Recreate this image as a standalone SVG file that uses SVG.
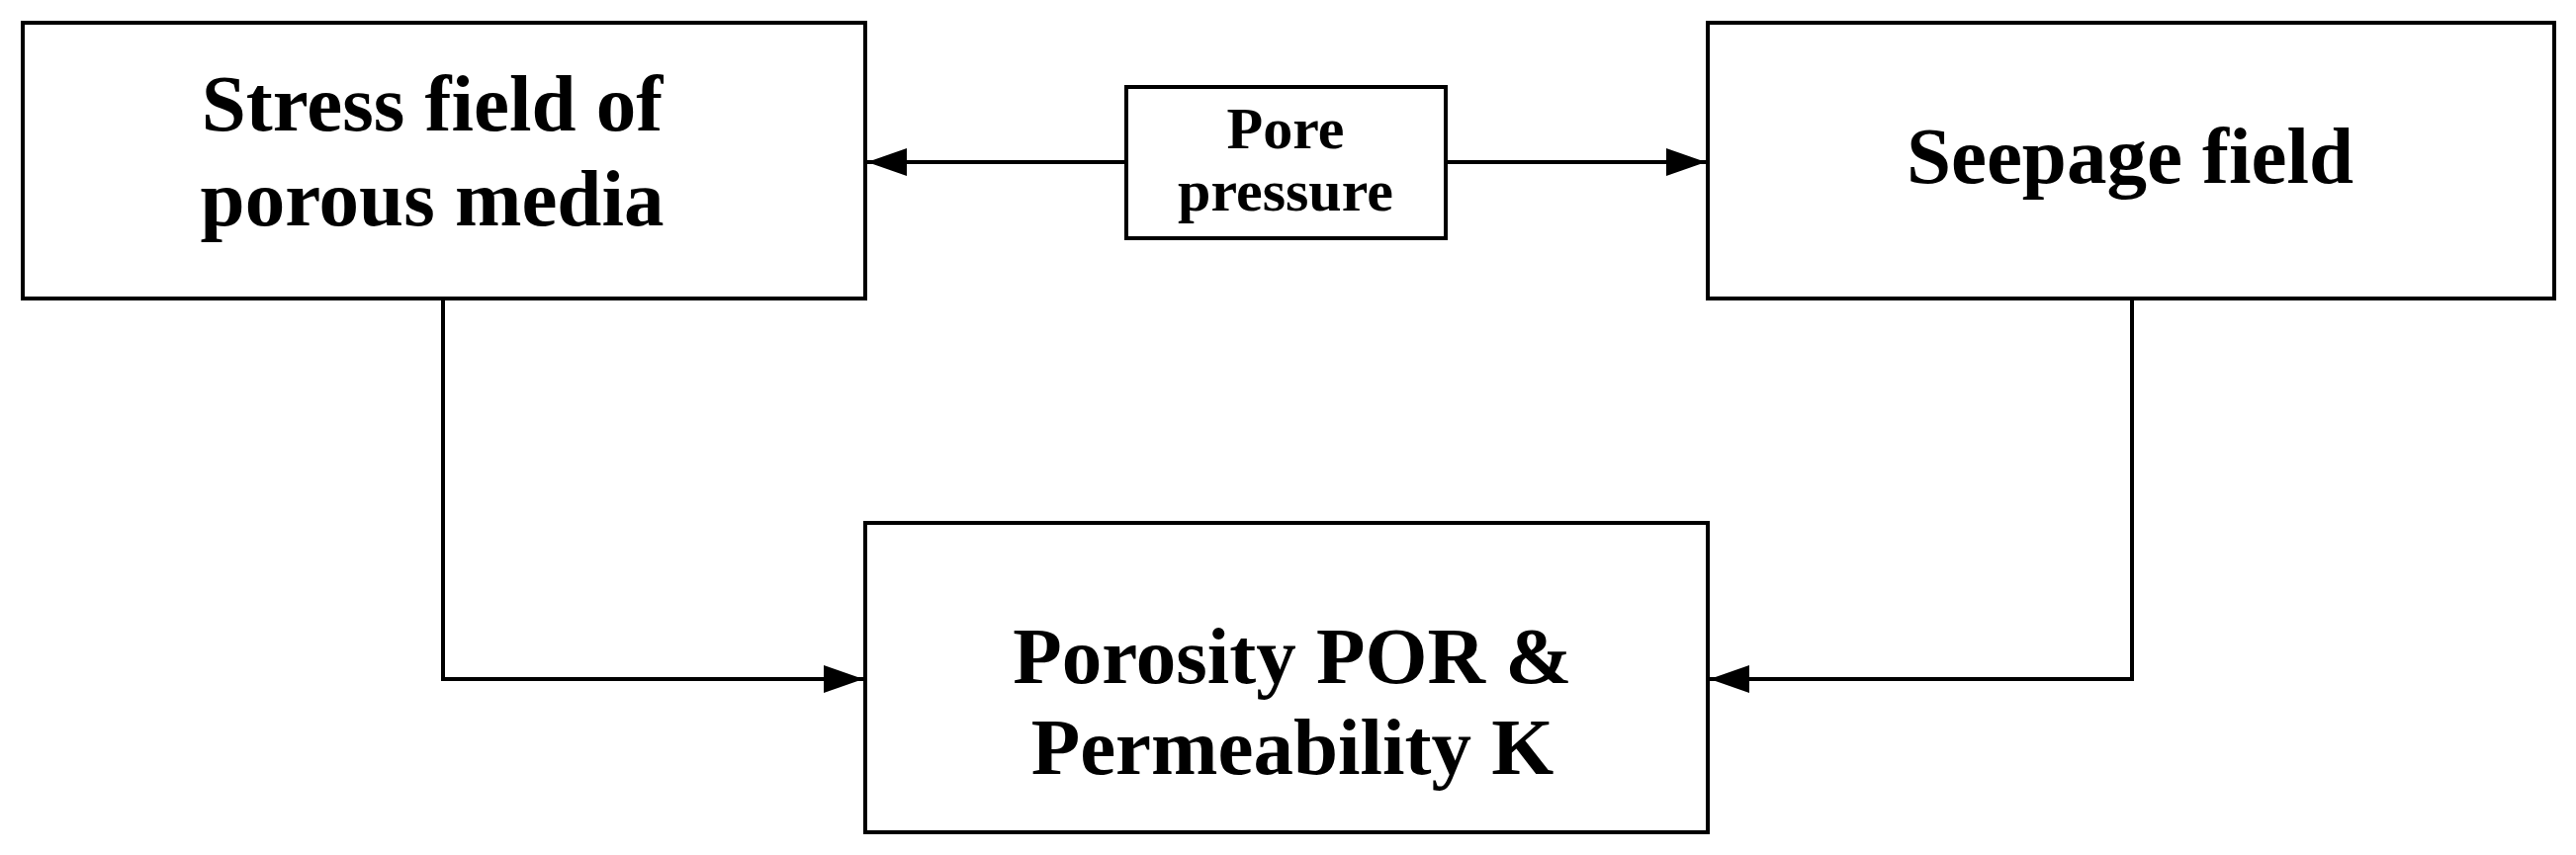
<svg xmlns="http://www.w3.org/2000/svg" width="2605" height="865" viewBox="0 0 2605 865">
<style>
.box{fill:#fff;stroke:#000;stroke-width:4}
.t{font-family:"Liberation Serif",serif;font-weight:bold;text-anchor:middle;fill:#000}
.c{fill:none;stroke:#000;stroke-width:4}
</style>
<defs>
<marker id="b" viewBox="0 0 10 10" refX="10" refY="5" markerWidth="40" markerHeight="40" orient="auto" markerUnits="userSpaceOnUse"><path d="M0,1.5L10,5L0,8.5z"/></marker></defs>
<rect width="2605" height="865" fill="#fff"/>
<g id="stress"><rect class="box" x="23" y="23" width="852" height="279"/><text class="t" font-size="81" x="437" y="132">Stress field of</text><text class="t" font-size="81" x="437" y="228">porous media</text></g>
<g id="seepage"><rect class="box" x="1727" y="23" width="856" height="279"/><text class="t" font-size="81" x="2154" y="185">Seepage field</text></g>
<g id="pore"><rect class="box" x="1139" y="88" width="323" height="153"/><text class="t" font-size="60" x="1300" y="150">Pore</text><text class="t" font-size="60" x="1300" y="213">pressure</text></g>
<g id="por"><rect class="box" x="875" y="529" width="852" height="313"/><text class="t" font-size="81" x="1307" y="691">Porosity POR &amp;</text><text class="t" font-size="81" x="1307" y="783">Permeability K</text></g>
<g id="connectors">
<line class="c" x1="1139" y1="164" x2="877" y2="164" marker-end="url(#b)"/>
<line class="c" x1="1462" y1="164" x2="1725" y2="164" marker-end="url(#b)"/>
<polyline class="c" points="448,302 448,687 873,687" marker-end="url(#b)"/>
<polyline class="c" points="2156,302 2156,687 1729,687" marker-end="url(#b)"/>
</g>
</svg>
